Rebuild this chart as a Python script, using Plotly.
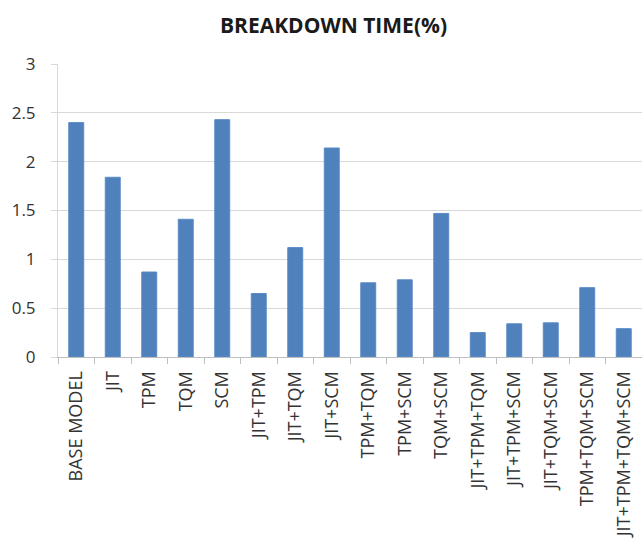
import plotly.graph_objects as go

categories = ["BASE MODEL", "JIT", "TPM", "TQM", "SCM", "JIT+TPM", "JIT+TQM", "JIT+SCM",
              "TPM+TQM", "TPM+SCM", "TQM+SCM", "JIT+TPM+TQM", "JIT+TPM+SCM",
              "JIT+TQM+SCM", "TPM+TQM+SCM", "JIT+TPM+TQM+SCM"]
breakdown_time = [2.40, 1.84, 0.87, 1.41, 2.43, 0.65, 1.12, 2.14,
                  0.76, 0.79, 1.47, 0.25, 0.34, 0.35, 0.71, 0.29]
y_ticks = [0, 0.5, 1, 1.5, 2, 2.5, 3]
y_tick_labels = ["0", "0.5", "1", "1.5", "2", "2.5", "3"]

fig = go.Figure(go.Bar(
    x=categories, y=breakdown_time,
    marker=dict(color="#4f81bd", line=dict(color="#5a8ac6", width=1)),
))

fig.update_layout(
    width=642, height=544,
    margin=dict(l=58, r=0, t=64, b=187),
    paper_bgcolor="white", plot_bgcolor="white",
    bargap=0.59,
    showlegend=False,
    title=dict(text="<b>BREAKDOWN TIME(%)</b>", x=333.5 / 642, xanchor="center",
               y=1 - 26 / 544, yanchor="middle",
               font=dict(family="Open Sans", size=21, color="#1a1a1a")),
    font=dict(family="Open Sans", color="#333333"),
)
fig.update_xaxes(
    type="category", tickangle=-90, tickson="boundaries",
    ticks="outside", ticklen=6, tickcolor="#bfbfbf",
    showline=True, linecolor="#bfbfbf", linewidth=1,
    tickfont=dict(family="Open Sans", size=18, color="#333333"),
    ticklabelstandoff=6,
    showgrid=False,
)
fig.update_yaxes(
    range=[0, 3], tickvals=y_ticks, ticktext=y_tick_labels,
    ticks="outside", ticklen=6, tickcolor="#d9d9d9",
    showline=True, linecolor="#d9d9d9", linewidth=1,
    showgrid=True, gridcolor="#d9d9d9", gridwidth=1,
    zeroline=False,
    tickfont=dict(family="Open Sans", size=17, color="#333333"),
    ticklabelstandoff=12,
)

fig.write_html("out.html")
